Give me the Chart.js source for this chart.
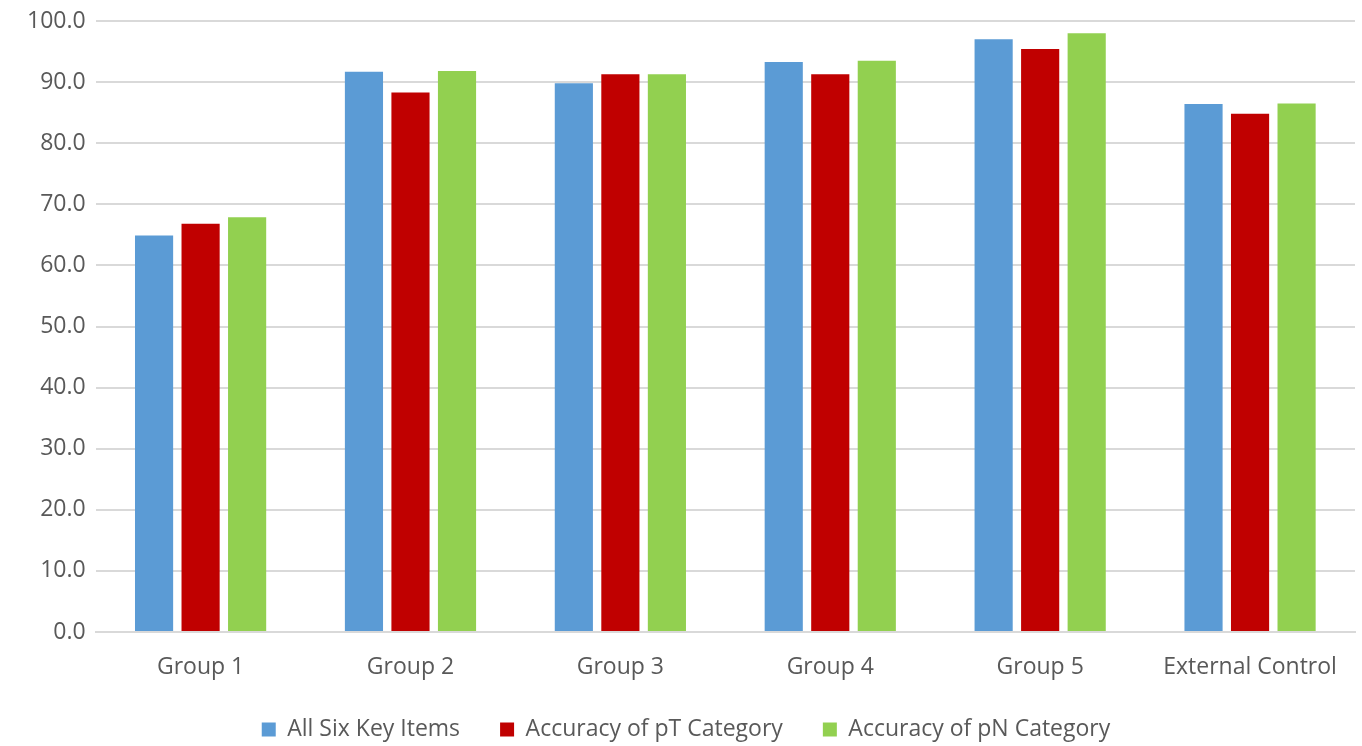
<!DOCTYPE html>
<html>
<head>
<meta charset="utf-8">
<script src="https://cdn.jsdelivr.net/npm/chart.js@4/dist/chart.umd.min.js"></script>
<style>
  html, body { margin: 0; padding: 0; background: #fff; }
  #wrap { width: 1362px; height: 746px; position: relative; }
</style>
</head>
<body>
<div id="wrap"><canvas id="chart"></canvas></div>
<script>
const categories = ['Group 1', 'Group 2', 'Group 3', 'Group 4', 'Group 5', 'External Control'];
const allSixKeyItems = [64.9, 91.7, 89.8, 93.3, 97.0, 86.4];
const accuracyPT = [66.8, 88.3, 91.3, 91.3, 95.4, 84.8];
const accuracyPN = [67.9, 91.8, 91.3, 93.5, 98.0, 86.5];

const textColor = '#595959';
const gridColor = '#d9d9d9';

const bar = (label, data, color) => ({
  label,
  data,
  backgroundColor: color,
  borderWidth: 0,
  barPercentage: 0.82,
  categoryPercentage: 0.665,
});

// legend padding doubles as item spacing, so clamp its height back down,
// and let the x labels draw past the (shortened) axis box
const layoutTweaks = {
  id: 'layoutTweaks',
  beforeInit(chart) {
    const fit = chart.legend.fit;
    chart.legend.fit = function () {
      fit.call(this);
      this.height = 68;
    };
  },
  afterLayout(chart) {
    const x = chart.scales.x;
    x.bottom = x.top + 70;
  },
};

new Chart(document.getElementById('chart'), {
  type: 'bar',
  data: {
    labels: categories,
    datasets: [
      bar('All Six Key Items', allSixKeyItems, '#5b9bd5'),
      bar('Accuracy of pT Category', accuracyPT, '#c00000'),
      bar('Accuracy of pN Category', accuracyPN, '#92d050'),
    ],
  },
  plugins: [layoutTweaks],
  options: {
    responsive: true,
    maintainAspectRatio: false,
    animation: false,
    layout: { padding: { top: 21, right: 7, bottom: 0, left: 17 } },
    plugins: {
      tooltip: { enabled: false },
      legend: {
        position: 'bottom',
        labels: {
          color: textColor,
          font: { family: 'Open Sans', size: 23 },
          boxWidth: 14,
          boxHeight: 14,
          padding: 40,
        },
      },
    },
    scales: {
      x: {
        grid: { display: false, drawTicks: false },
        border: { color: gridColor, width: 2 },
        ticks: {
          color: textColor,
          font: { family: 'Open Sans', size: 23 },
          padding: 22,
        },
        afterFit(scale) {
          scale.height = 46;
        },
      },
      y: {
        min: 0,
        max: 100,
        grid: { color: gridColor, lineWidth: 2, drawTicks: false },
        border: { display: false },
        ticks: {
          stepSize: 10,
          color: textColor,
          font: { family: 'Open Sans', size: 23 },
          padding: 10,
          callback: (v) => Number(v).toFixed(1),
        },
        afterFit(scale) {
          scale.paddingTop = 0;
        },
      },
    },
  },
});
</script>
</body>
</html>
